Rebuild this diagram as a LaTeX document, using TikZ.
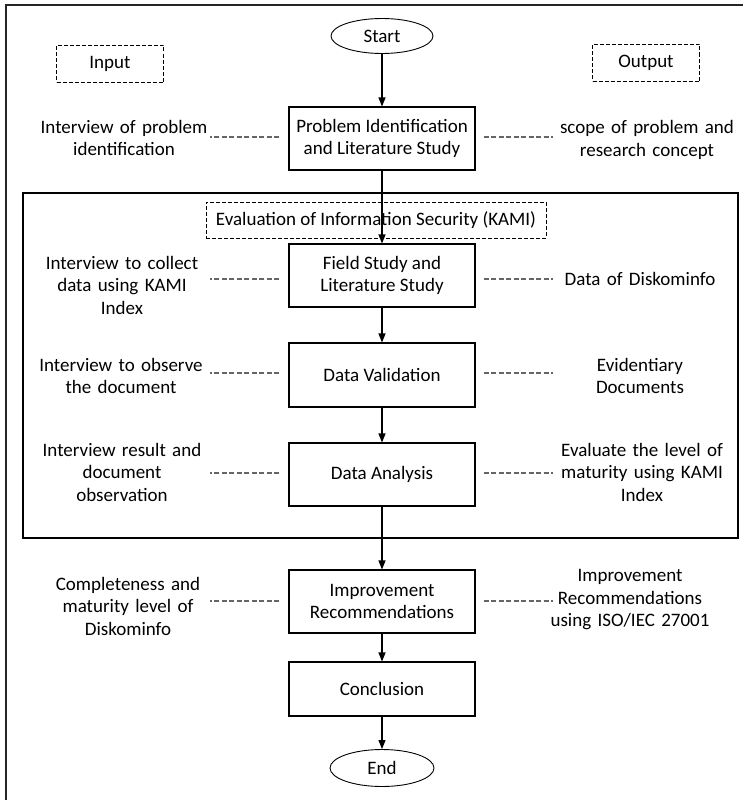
\documentclass[tikz,border=0pt]{standalone}
\usepackage{fontspec}
\setmainfont{Carlito}
\usetikzlibrary{arrows.meta,shapes.geometric}
\begin{document}
\begin{tikzpicture}[x=1pt,y=-1pt]
                \tikzstyle{every node}+=[inner sep=0pt, font=\fontsize{19}{22.5}\selectfont]
                \tikzstyle{stepbox}=[draw=black, line width=1.1pt, minimum width=186pt, minimum height=63pt, align=center]
                \tikzstyle{term}=[draw=black, ellipse, line width=0.9pt, minimum width=102pt, minimum height=35pt]
                \tikzstyle{tag}=[draw=black, dash pattern=on 4pt off 2pt, line width=0.8pt]
                \tikzstyle{note}=[text width=190pt, align=center]
                \tikzstyle{flow}=[-{Triangle[length=9pt,width=7pt]}, line width=1.1pt]
                \tikzstyle{link}=[draw=black!60, dash pattern=on 5pt off 2.5pt, line width=1.1pt]
                \useasboundingbox (0,0) rectangle (743,800);
                \draw [black!85, line width=2.5pt] (6,800) -- (6,5) -- (743,5);
                \draw [black, line width=1.1pt] (23,193) rectangle (738,538);
                \node [term] (start) at (382,36) {Start};
                \node [tag, minimum width=107pt, minimum height=37pt] (input) at (110,64) {Input};
                \node [tag, minimum width=107pt, minimum height=37pt] (output) at (646,63) {Output};
                \node [stepbox] (prob) at (382,138.5) {Problem Identification\\and Literature Study};
                \node [tag, minimum width=340pt, minimum height=36pt] (kami) at (376,220) {Evaluation of Information Security (KAMI)};
                \node [stepbox] (field) at (382,275.5) {Field Study and\\Literature Study};
                \node [stepbox, minimum height=64pt] (valid) at (382,375) {Data Validation};
                \node [stepbox] (anal) at (382,474.5) {Data Analysis};
                \node [stepbox] (impr) at (382,601.5) {Improvement\\Recommendations};
                \node [stepbox, minimum height=54pt] (concl) at (382,689) {Conclusion};
                \node [term, minimum width=104pt, minimum height=37pt] (end) at (382,768) {End};
                \node [note] (in1) at (124,138) {Interview of problem\\identification};
                \node [note] (in2) at (122,285) {Interview to collect\\data using KAMI\\Index};
                \node [note] (in3) at (121,376) {Interview to observe\\the document};
                \node [note] (in4) at (122,472) {Interview result and\\document\\observation};
                \node [note] (in5) at (128,606) {Completeness and\\maturity level of\\Diskominfo};
                \node [note] (out1) at (647,140) {scope of problem and\\research concept};
                \node [note] (out2) at (640,279) {Data of Diskominfo};
                \node [note] (out3) at (640,376) {Evidentiary\\Documents};
                \node [note] (out4) at (642,472) {Evaluate the level of\\maturity using KAMI\\Index};
                \node [note] (out5) at (630,600) {Improvement\\Recommendations\\using ISO/IEC 27001};
                \draw [flow] (start) -- (prob);
                \draw [flow] (prob) -- (field);
                \draw [flow] (field) -- (valid);
                \draw [flow] (valid) -- (anal);
                \draw [flow] (anal) -- (impr);
                \draw [flow] (impr) -- (concl);
                \draw [flow] (concl) -- (end);
                \draw [link] (prob.west |- 0,137) ++(-9,0) -- ++(-69,0);
                \draw [link] (prob.east |- 0,137) ++(8,0) -- ++(69,0);
                \draw [link] (field.west |- 0,279) ++(-9,0) -- ++(-69,0);
                \draw [link] (field.east |- 0,279) ++(8,0) -- ++(69,0);
                \draw [link] (valid.west |- 0,373) ++(-9,0) -- ++(-69,0);
                \draw [link] (valid.east |- 0,373) ++(8,0) -- ++(69,0);
                \draw [link] (anal.west |- 0,473) ++(-9,0) -- ++(-69,0);
                \draw [link] (anal.east |- 0,473) ++(8,0) -- ++(69,0);
                \draw [link] (impr.west |- 0,601) ++(-9,0) -- ++(-69,0);
                \draw [link] (impr.east |- 0,601) ++(8,0) -- ++(69,0);
\end{tikzpicture}
\end{document}
